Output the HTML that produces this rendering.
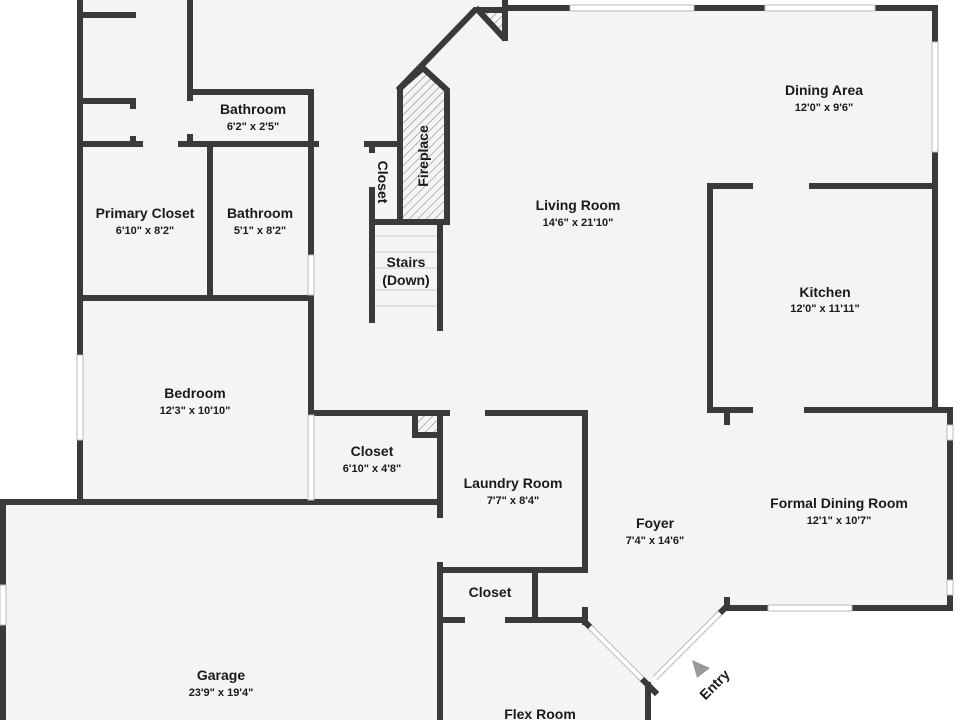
<!DOCTYPE html>
<html><head><meta charset="utf-8"><style>
html,body{margin:0;padding:0;background:#fff}
svg{display:block}
text{font-family:"Liberation Sans",sans-serif;fill:#1a1a1a;text-anchor:middle}
.t{font-size:14px;font-weight:bold}
.s{font-size:11px;font-weight:bold}
</style></head><body>
<svg width="960" height="720" viewBox="0 0 960 720" xmlns="http://www.w3.org/2000/svg">
<defs>
<pattern id="h" width="6" height="6" patternUnits="userSpaceOnUse" patternTransform="rotate(45)">
<rect width="6" height="6" fill="#f4f4f4"/><line x1="0" y1="0" x2="0" y2="6" stroke="#777" stroke-width="1"/>
</pattern>
</defs>
<polygon points="80,0 505,0 505,8 935,8 935,410 950,410 950,608 727,608 648,685 648,720 3,720 3,500 80,500" fill="#f4f4f4"/>
<polygon points="400,88 423,68 447,90 447,222 400,222" fill="url(#h)" stroke="#3a3a3a" stroke-width="6"/>
<polygon points="480,10 503,10 503,35" fill="url(#h)"/>
<rect x="416" y="413" width="21" height="20" fill="url(#h)"/>
<g stroke="#3a3a3a" stroke-width="6" fill="none" stroke-linecap="square">
<line x1="80" y1="0" x2="80" y2="355"/><line x1="80" y1="440" x2="80" y2="500"/>
<line x1="80" y1="15" x2="133" y2="15"/>
<line x1="190" y1="0" x2="190" y2="98"/><line x1="190" y1="137" x2="190" y2="144"/>
<line x1="190" y1="92" x2="311" y2="92"/>
<line x1="311" y1="92" x2="311" y2="255"/><line x1="311" y1="295" x2="311" y2="415"/>
<line x1="80" y1="101" x2="133" y2="101"/><line x1="133" y1="101" x2="133" y2="106"/><line x1="133" y1="139" x2="133" y2="144"/>
<line x1="80" y1="144" x2="140" y2="144"/><line x1="181" y1="144" x2="316" y2="144"/>
<line x1="367" y1="144" x2="400" y2="144"/>
<line x1="210" y1="144" x2="210" y2="298"/>
<line x1="80" y1="298" x2="311" y2="298"/>
<line x1="311" y1="413" x2="440" y2="413"/>
<line x1="0" y1="502" x2="440" y2="502"/>
<line x1="3" y1="502" x2="3" y2="585"/><line x1="3" y1="625" x2="3" y2="720"/>
<line x1="372" y1="146" x2="372" y2="150"/><line x1="372" y1="190" x2="372" y2="320"/>
<line x1="372" y1="222" x2="447" y2="222"/>
<line x1="440" y1="222" x2="440" y2="328"/>
<polyline points="400,88 475,10 505,10"/>
<line x1="478" y1="10" x2="503" y2="37"/>
<line x1="505" y1="0" x2="505" y2="38"/>
<line x1="505" y1="8" x2="570" y2="8"/><line x1="694" y1="8" x2="765" y2="8"/><line x1="875" y1="8" x2="935" y2="8"/>
<line x1="935" y1="8" x2="935" y2="42"/><line x1="935" y1="152" x2="935" y2="410"/>
<line x1="710" y1="186" x2="750" y2="186"/><line x1="812" y1="186" x2="935" y2="186"/>
<line x1="710" y1="186" x2="710" y2="410"/>
<line x1="710" y1="410" x2="750" y2="410"/><line x1="807" y1="410" x2="950" y2="410"/>
<line x1="727" y1="410" x2="727" y2="422"/>
<line x1="950" y1="410" x2="950" y2="425"/><line x1="950" y1="440" x2="950" y2="580"/><line x1="950" y1="595" x2="950" y2="608"/>
<line x1="727" y1="608" x2="768" y2="608"/><line x1="852" y1="608" x2="950" y2="608"/>
<line x1="727" y1="600" x2="727" y2="608"/>
<line x1="440" y1="413" x2="440" y2="515"/><line x1="440" y1="565" x2="440" y2="720"/>
<line x1="415" y1="413" x2="415" y2="435"/><line x1="415" y1="435" x2="437" y2="435"/>
<line x1="440" y1="413" x2="447" y2="413"/><line x1="488" y1="413" x2="585" y2="413"/>
<line x1="585" y1="413" x2="585" y2="570"/>
<line x1="440" y1="570" x2="585" y2="570"/>
<line x1="535" y1="570" x2="535" y2="620"/>
<line x1="440" y1="620" x2="462" y2="620"/><line x1="508" y1="620" x2="585" y2="620"/>
<line x1="585" y1="610" x2="585" y2="622"/>
<line x1="648" y1="685" x2="648" y2="720"/>
<line x1="585" y1="622" x2="590" y2="627"/>
<line x1="642" y1="679" x2="655" y2="692"/>
<line x1="720" y1="613" x2="727" y2="606"/>
</g>
<g stroke="#bbb" stroke-width="1" fill="#fff">
<rect x="570" y="5" width="124" height="6"/><rect x="765" y="5" width="110" height="6"/>
<rect x="932" y="42" width="6" height="110"/>
<rect x="947" y="425" width="6" height="15"/><rect x="947" y="580" width="6" height="15"/>
<rect x="768" y="605" width="84" height="6"/>
<rect x="0" y="585" width="6" height="40"/>
<rect x="77" y="355" width="6" height="85"/>
<rect x="308" y="255" width="6" height="40"/>
<rect x="308" y="415" width="6" height="85"/>
</g>
<g stroke-linecap="butt">
<line x1="590" y1="627" x2="642" y2="679" stroke="#bbb" stroke-width="6"/>
<line x1="590" y1="627" x2="642" y2="679" stroke="#fff" stroke-width="4"/>
<line x1="655" y1="678" x2="720" y2="613" stroke="#bbb" stroke-width="6"/>
<line x1="655" y1="678" x2="720" y2="613" stroke="#fff" stroke-width="4"/>
</g>
<g stroke="#ccc" stroke-width="1">
<line x1="375" y1="236" x2="437" y2="236"/><line x1="375" y1="252" x2="437" y2="252"/>
<line x1="375" y1="268" x2="437" y2="268"/><line x1="375" y1="290" x2="437" y2="290"/>
<line x1="375" y1="306" x2="437" y2="306"/>
</g>
<polygon points="692,660 710,668 697,678" fill="#999"/>
<text class="t" x="253" y="114">Bathroom</text><text class="s" x="253" y="130">6'2" x 2'5"</text>
<text class="t" x="145" y="218">Primary Closet</text><text class="s" x="145" y="234">6'10" x 8'2"</text>
<text class="t" x="260" y="218">Bathroom</text><text class="s" x="260" y="234">5'1" x 8'2"</text>
<text class="t" x="195" y="398">Bedroom</text><text class="s" x="195" y="414">12'3" x 10'10"</text>
<text class="t" x="372" y="456">Closet</text><text class="s" x="372" y="472">6'10" x 4'8"</text>
<text class="t" x="513" y="488">Laundry Room</text><text class="s" x="513" y="504">7'7" x 8'4"</text>
<text class="t" x="490" y="597">Closet</text>
<text class="t" x="655" y="528">Foyer</text><text class="s" x="655" y="544">7'4" x 14'6"</text>
<text class="t" x="839" y="508">Formal Dining Room</text><text class="s" x="839" y="524">12'1" x 10'7"</text>
<text class="t" x="825" y="297">Kitchen</text><text class="s" x="825" y="312">12'0" x 11'11"</text>
<text class="t" x="824" y="95">Dining Area</text><text class="s" x="824" y="111">12'0" x 9'6"</text>
<text class="t" x="578" y="210">Living Room</text><text class="s" x="578" y="226">14'6" x 21'10"</text>
<text class="t" x="406" y="267">Stairs</text><text class="t" x="406" y="285">(Down)</text>
<text class="t" x="221" y="680">Garage</text><text class="s" x="221" y="696">23'9" x 19'4"</text>
<text class="t" x="540" y="719">Flex Room</text>
<text class="t" transform="translate(428,156) rotate(-90)">Fireplace</text>
<text class="t" transform="translate(378,182) rotate(90)">Closet</text>
<text class="t" transform="translate(718,688) rotate(-45)">Entry</text>
</svg>
</body></html>
